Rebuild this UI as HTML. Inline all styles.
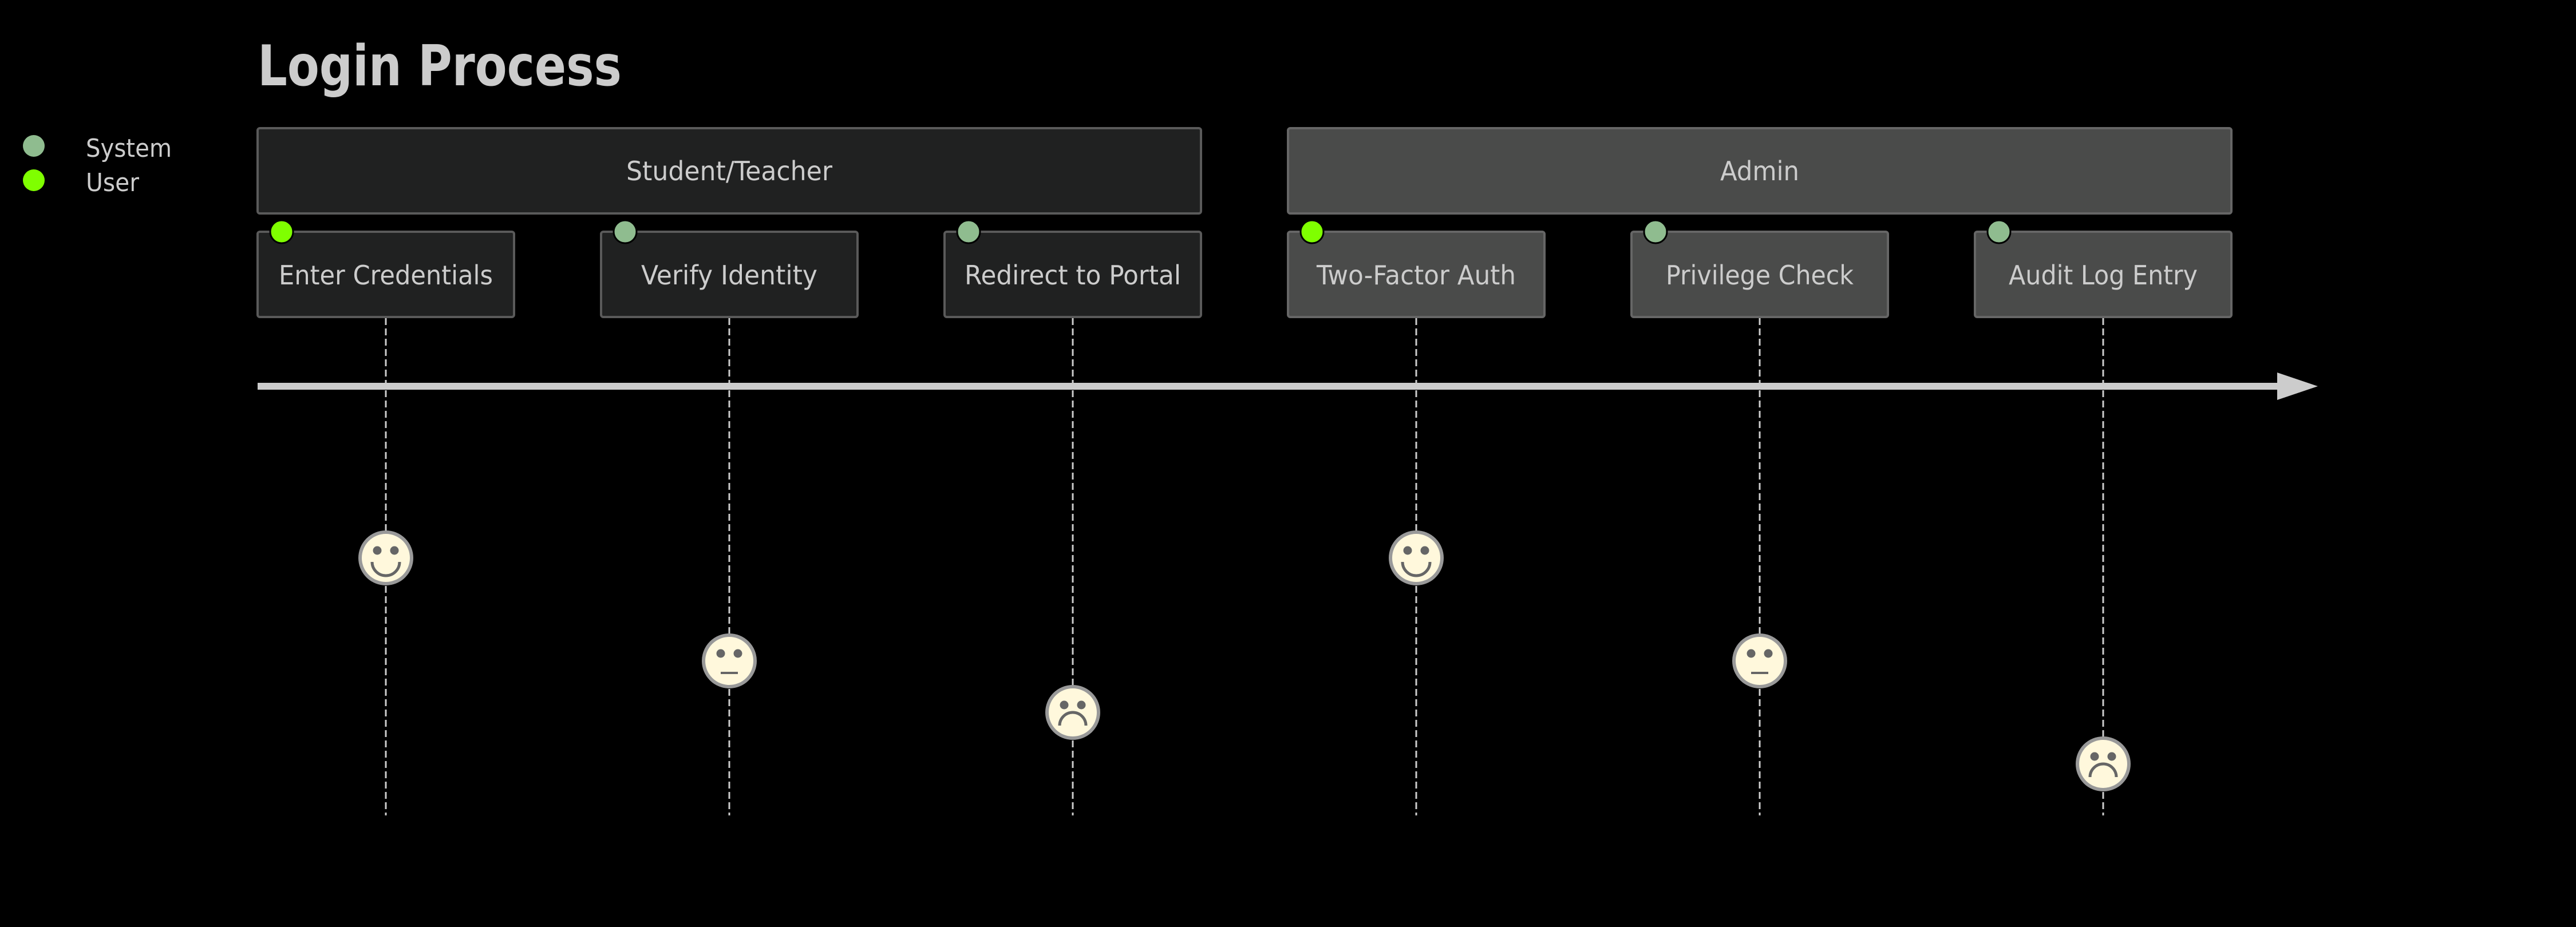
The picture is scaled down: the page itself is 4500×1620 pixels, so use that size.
<!DOCTYPE html>
<html><head><meta charset="utf-8"><style>
html,body{margin:0;padding:0;background:#000;}
svg{display:block;}
text{font-family:"DejaVu Sans","Liberation Sans",sans-serif;fill:#cccccc;}
</style></head><body>
<svg width="4500" height="1620" viewBox="0 0 4500 1620" xmlns="http://www.w3.org/2000/svg">
<rect width="4500" height="1620" fill="#000"/>
<text x="450" y="149" font-size="98" font-weight="bold" style="font-stretch:condensed" textLength="636" lengthAdjust="spacingAndGlyphs">Login Process</text>
<circle cx="59" cy="255" r="19" fill="#8fbc8f"/>
<circle cx="59" cy="315" r="19" fill="#7fff00"/>
<text x="150" y="274" font-size="44" textLength="150" lengthAdjust="spacingAndGlyphs">System</text>
<text x="150" y="334" font-size="44" textLength="93" lengthAdjust="spacingAndGlyphs">User</text>
<rect x="450" y="224" width="1648" height="149" rx="4" fill="#202121" stroke="#5a5a5a" stroke-width="4"/>
<text x="1274" y="315" font-size="46" text-anchor="middle" textLength="360" lengthAdjust="spacingAndGlyphs">Student/Teacher</text>
<rect x="2250" y="224" width="1648" height="149" rx="4" fill="#4a4b4a" stroke="#666" stroke-width="4"/>
<text x="3074" y="315" font-size="46" text-anchor="middle" textLength="138" lengthAdjust="spacingAndGlyphs">Admin</text>
<g stroke="#cccccc" stroke-width="3" stroke-dasharray="12 6">
<line x1="674" y1="556" x2="674" y2="1425"/>
<line x1="1274" y1="556" x2="1274" y2="1425"/>
<line x1="1874" y1="556" x2="1874" y2="1425"/>
<line x1="2474" y1="556" x2="2474" y2="1425"/>
<line x1="3074" y1="556" x2="3074" y2="1425"/>
<line x1="3674" y1="556" x2="3674" y2="1425"/>
</g>
<g stroke-width="4">
<rect x="450" y="405" width="448" height="149" rx="4" fill="#202121" stroke="#5a5a5a"/>
<rect x="1050" y="405" width="448" height="149" rx="4" fill="#202121" stroke="#5a5a5a"/>
<rect x="1650" y="405" width="448" height="149" rx="4" fill="#202121" stroke="#5a5a5a"/>
<rect x="2250" y="405" width="448" height="149" rx="4" fill="#4a4b4a" stroke="#666"/>
<rect x="2850" y="405" width="448" height="149" rx="4" fill="#4a4b4a" stroke="#666"/>
<rect x="3450" y="405" width="448" height="149" rx="4" fill="#4a4b4a" stroke="#666"/>
</g>
<g font-size="46" text-anchor="middle">
<text x="674" y="497" textLength="374" lengthAdjust="spacingAndGlyphs">Enter Credentials</text>
<text x="1274" y="497" textLength="308" lengthAdjust="spacingAndGlyphs">Verify Identity</text>
<text x="1874" y="497" textLength="378" lengthAdjust="spacingAndGlyphs">Redirect to Portal</text>
<text x="2474" y="497" textLength="348" lengthAdjust="spacingAndGlyphs">Two-Factor Auth</text>
<text x="3074" y="497" textLength="328" lengthAdjust="spacingAndGlyphs">Privilege Check</text>
<text x="3674" y="497" textLength="330" lengthAdjust="spacingAndGlyphs">Audit Log Entry</text>
</g>
<g stroke="#000" stroke-width="3">
<circle cx="492" cy="405" r="20" fill="#7fff00"/>
<circle cx="1092" cy="405" r="20" fill="#8fbc8f"/>
<circle cx="1692" cy="405" r="20" fill="#8fbc8f"/>
<circle cx="2292" cy="405" r="20" fill="#7fff00"/>
<circle cx="2892" cy="405" r="20" fill="#8fbc8f"/>
<circle cx="3492" cy="405" r="20" fill="#8fbc8f"/>
</g>
<rect x="450" y="669" width="3540" height="12" fill="#cccccc"/>
<polygon points="3978,651 4049,675 3978,699" fill="#cccccc"/>
<defs>
<g id="face"><circle r="45" fill="#fff8dc" stroke="#999" stroke-width="6"/><circle cx="-15" cy="-13" r="7.5" fill="#666"/><circle cx="15" cy="-13" r="7.5" fill="#666"/></g>
</defs>
<g transform="translate(674,975)"><use href="#face"/><path d="M-24 7 A24 24 0 0 0 24 7" fill="none" stroke="#666" stroke-width="5"/></g>
<g transform="translate(2474,975)"><use href="#face"/><path d="M-24 7 A24 24 0 0 0 24 7" fill="none" stroke="#666" stroke-width="5"/></g>
<g transform="translate(1274,1155)"><use href="#face"/><line x1="-15" y1="21" x2="15" y2="21" stroke="#666" stroke-width="4"/></g>
<g transform="translate(3074,1155)"><use href="#face"/><line x1="-15" y1="21" x2="15" y2="21" stroke="#666" stroke-width="4"/></g>
<g transform="translate(1874,1245)"><use href="#face"/><path d="M-23 23 A23 23 0 0 1 23 23" fill="none" stroke="#666" stroke-width="5"/></g>
<g transform="translate(3674,1335)"><use href="#face"/><path d="M-23 23 A23 23 0 0 1 23 23" fill="none" stroke="#666" stroke-width="5"/></g>
</svg>
</body></html>
